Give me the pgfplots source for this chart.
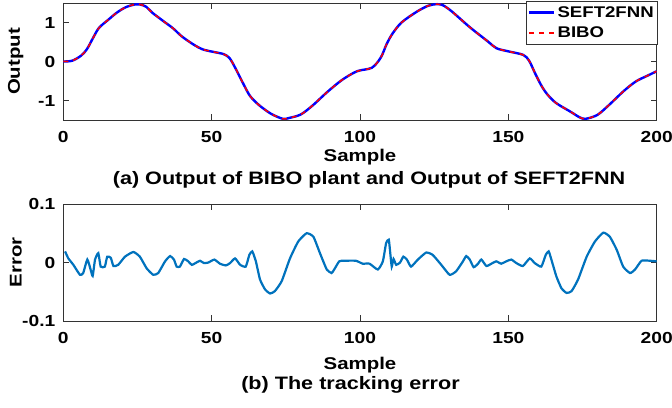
\documentclass[border=0pt]{standalone}
\usepackage{fontspec}
\setmainfont{Liberation Sans}[FakeStretch=1.2]
\usepackage{pgfplots}
\usepackage{pgfplotstable}
\pgfplotsset{compat=1.18}
\definecolor{mblue}{rgb}{0,0.447,0.741}
\definecolor{axgray}{gray}{0.2}
\definecolor{pred}{rgb}{1,0,0}

\pgfplotstableread{
x y
0 0
3 0.02
6 0.15
8 0.32
10 0.6
12 0.86
15 1.06
18 1.25
21 1.39
24 1.46
26 1.46
28 1.40
30 1.25
34 1.02
37 0.85
40 0.64
44 0.43
47 0.31
51 0.24
54 0.19
56 0.09
58 -0.17
61 -0.62
63 -0.89
66 -1.12
70 -1.34
74 -1.47
76 -1.45
80 -1.36
84 -1.13
89 -0.78
94 -0.47
99 -0.25
104 -0.16
107 0.1
109 0.45
111 0.72
114 1.0
119 1.27
123 1.43
126 1.47
128 1.44
131 1.28
137 0.88
143 0.52
146 0.34
150 0.26
155 0.17
157 0.02
159 -0.3
161 -0.6
163 -0.83
166 -1.06
171 -1.29
174 -1.43
176 -1.47
180 -1.37
184 -1.11
189 -0.75
193 -0.51
197 -0.36
200 -0.25
}\bibotab

\pgfplotstableread{
x y
0 0
3 0.02
6 0.15
8 0.32
10 0.6
12 0.86
15 1.06
18 1.25
21 1.39
24 1.46
26 1.46
28 1.40
30 1.25
34 1.02
37 0.85
40 0.64
44 0.43
47 0.31
51 0.24
54 0.19
56 0.09
58 -0.17
61 -0.62
63 -0.89
66 -1.12
70 -1.34
74 -1.47
76 -1.45
80 -1.36
84 -1.13
89 -0.78
94 -0.47
99 -0.25
104 -0.16
107 0.1
109 0.45
111 0.72
114 1.0
119 1.27
123 1.43
126 1.47
128 1.44
131 1.28
137 0.88
143 0.52
146 0.34
150 0.26
155 0.17
157 0.02
159 -0.3
161 -0.6
163 -0.83
166 -1.06
171 -1.29
174 -1.43
176 -1.47
180 -1.37
184 -1.11
189 -0.75
193 -0.51
197 -0.36
200 -0.25
}\sefttab

\pgfplotstableread{
x y
0.6 0.019
1.7 0.007
3.4 -0.004
5.6 -0.021
6.7 -0.018
8.1 0.005
9.2 -0.012
9.9 -0.023
10.7 0.005
11.8 0.016
12.6 -0.007
14 -0.007
14.8 0.010
16 0.008
16.9 -0.006
18.5 -0.004
20.8 0.010
23.6 0.018
25.8 0.010
28.1 -0.010
30.3 -0.021
32 -0.018
34.3 0.002
36 0.011
37.3 0.005
38.2 -0.007
39.3 -0.007
40.7 0.006
42.1 0.002
43.3 -0.004
44.9 0
46.1 0.003
47.4 -0.001
48.9 0
50.9 0.005
52.8 -0.002
54.8 -0.005
56.2 -0.001
57.9 0.007
59.6 -0.004
61.5 -0.007
62.7 0.013
63.7 0.019
64.9 0.002
66.3 -0.029
68 -0.046
69.7 -0.053
71.3 -0.049
73.6 -0.032
76.4 0.007
79.2 0.036
82 0.050
84.3 0.044
86.5 0.016
88.8 -0.012
90.4 -0.018
91.3 -0.012
93 0.002
94.7 0.003
98.6 0.003
100.9 -0.002
103.2 -0.002
106 -0.012
107.7 0.002
108.8 0.033
109.7 0.039
110.2 0.016
110.7 -0.007
111.3 0.006
112.2 -0.004
113.5 0
114.6 0.010
115.8 0.005
117.2 -0.007
119.5 0.005
122.3 0.017
124.5 0.013
127.4 -0.004
130.2 -0.021
132.4 -0.015
134.7 0.002
135.8 0.011
137 0.005
138.3 -0.008
139.8 -0.002
140.9 0.005
142.6 -0.006
144.3 -0.002
145.9 0.002
147.6 -0.002
149.3 0.002
151 0.005
152.7 -0.001
154.9 -0.006
157.2 0.007
158.9 -0.001
161.1 -0.007
162.6 0.013
163.6 0.019
164.5 0.005
166.2 -0.024
167.9 -0.044
169.6 -0.052
171.3 -0.049
173.5 -0.029
176.4 0.010
179.2 0.036
182 0.051
184.2 0.044
186.5 0.022
188.7 -0.007
191 -0.018
192.7 -0.012
194.9 0.003
197.7 0.003
200 0.002
}\errtab

\pgfplotsset{
  myaxis/.style={
    scale only axis,
    width=593.4pt,
    xmin=0, xmax=200,
    xtick={0,50,100,150,200},
    tick align=inside,
    major tick length=6pt,
    axis line style={axgray, line width=0.6pt},
    tick style={axgray, line width=0.6pt},
    /pgf/number format/assume math mode=true,
    tick label style={font=\fontsize{16}{16}\selectfont\bfseries},
    xticklabel style={yshift=-7.5pt},
    yticklabel style={xshift=-4.5pt},
    label style={font=\fontsize{17}{17}\selectfont\bfseries},
  }
}

\begin{document}
\begin{tikzpicture}
\path[use as bounding box] (0pt,0pt) rectangle (672pt,407pt);

\begin{axis}[myaxis,
  at={(63.3pt,287pt)}, anchor=south west,
  height=117pt,
  ymin=-1.5, ymax=1.5,
  ytick={-1,0,1}, yticklabels={-1,0,1},
  xlabel={Sample},
  xlabel style={at={(axis description cs:0.5,0)}, anchor=base, yshift=-41.7pt},
  ylabel={Output},
  ylabel style={at={(axis description cs:0,0.5)}, anchor=center, yshift=47.5pt},
  legend style={at={(1.002,1.017)}, anchor=north east, draw=axgray,
    font=\fontsize{15.5}{15.5}\selectfont\bfseries, inner xsep=2pt, inner ysep=3pt,
    row sep=4.5pt, cells={anchor=west}},
  legend cell align=left,
  legend image code/.code={\draw[#1] (0pt,0pt) -- (25pt,0pt);},
]
\addplot[blue, line width=2.4pt, smooth] table[x=x,y=y] {\sefttab};
\addlegendentry{SEFT2FNN}
\addplot[draw=pred, line width=1.5pt, dash pattern=on 5pt off 5pt, smooth] table[x=x,y=y] {\bibotab};
\addlegendentry{BIBO}
\end{axis}

\begin{axis}[myaxis,
  at={(63.3pt,86pt)}, anchor=south west,
  height=117pt,
  ymin=-0.1, ymax=0.1,
  ytick={-0.1,0,0.1}, yticklabels={-0.1,0,0.1},
  xlabel={Sample},
  xlabel style={at={(axis description cs:0.5,0)}, anchor=base, yshift=-48.3pt},
  ylabel={Error},
  ylabel style={at={(axis description cs:0,0.5)}, anchor=center, yshift=47.5pt},
]
\addplot[mblue, line width=2.2pt, smooth, tension=0.3] table[x=x,y=y] {\errtab};
\end{axis}

\node[anchor=base, font=\fontsize{18}{18}\selectfont\bfseries] at (369pt,222pt) {(a) Output of BIBO plant and Output of SEFT2FNN};
\node[anchor=base, font=\fontsize{18}{18}\selectfont\bfseries] at (350.5pt,17pt) {(b) The tracking error};
\end{tikzpicture}
\end{document}
